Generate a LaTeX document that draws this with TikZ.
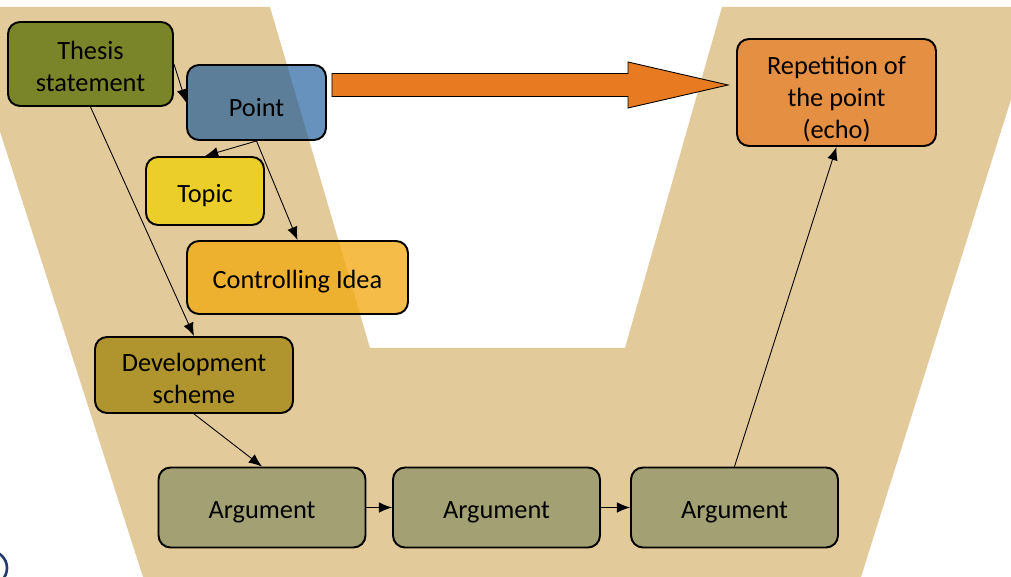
\documentclass[tikz,border=0pt]{standalone}
\usepackage{fontspec}
\setmainfont{Carlito}
\usetikzlibrary{arrows.meta,calc,positioning}
\definecolor{sandtan}{RGB}{227,202,154}
\definecolor{thesisolive}{RGB}{122,132,41}
\definecolor{pointblue}{RGB}{15,83,152}
\definecolor{topicyellow}{RGB}{235,206,42}
\definecolor{ideaorange}{RGB}{242,168,14}
\definecolor{schemegold}{RGB}{176,148,46}
\definecolor{argkhaki}{RGB}{163,160,116}
\definecolor{echoorange}{RGB}{229,143,66}
\definecolor{bigorange}{RGB}{232,122,34}
\definecolor{logoblue}{RGB}{31,58,107}
\newcommand{\toppad}[1]{\rule{0pt}{#1}}

\begin{document}
\begin{tikzpicture}[x=0.02cm, y=-0.02cm,
    box/.style={draw, rounded corners=0.24cm, line width=1.1pt, align=center,
        font=\fontsize{15}{18.2}\selectfont, inner sep=2pt,
        execute at begin node={\toppad{15.5pt}}},
    link/.style={-{Latex[length=7.5pt,width=6pt]}, line width=0.5pt}]
\useasboundingbox (0,0) rectangle (1011,577);
\clip (0,0) rectangle (1011,577);

% Background funnel
\fill[sandtan] (-40,7) -- (270,7) -- (370,348) -- (625,348) -- (722,7)
    -- (1040,7) -- (861,577) -- (143,577) -- cycle;
\draw[logoblue, line width=1.5pt] (-10,568) circle (17);

% Boxes
\node[box, fill=thesisolive, minimum width=3.3cm, minimum height=1.68cm] (thesis) at (90.5,64) {\toppad{13.6pt}Thesis\\statement};
\node[box, fill=pointblue, fill opacity=0.63, text opacity=1, minimum width=2.78cm, minimum height=1.5cm] (point) at (256.5,102.5) {Point};
\node[box, fill=topicyellow, minimum width=2.36cm, minimum height=1.36cm] (topic) at (205,191) {Topic};
\node[box, fill=ideaorange, fill opacity=0.76, text opacity=1, minimum width=4.42cm, minimum height=1.46cm] (idea) at (297.5,277.5) {Controlling Idea};
\node[box, fill=schemegold, minimum width=3.96cm, minimum height=1.52cm] (scheme) at (194,375) {\toppad{14.7pt}Development\\scheme};
\node[box, fill=echoorange, minimum width=3.98cm, minimum height=2.14cm] (echo) at (836.5,92.5) {\toppad{18pt}Repetition of\\the point\\(echo)};

\foreach \i/\x in {1/262, 2/496.5, 3/734.5} {
    \node[box, fill=argkhaki, minimum width=4.14cm, minimum height=1.6cm] (arg\i) at (\x,507.5) {Argument};
}

% Connectors
\draw[link] (thesis.east) -- (point.west);
\draw[link] (point.south) -- (topic.north);
\draw[link] (point.south) -- (idea.north);
\draw[link] (thesis.south) -- (scheme.north);
\draw[link] (scheme.south) -- (arg1.north);
\draw[link] (arg1.east) -- (arg2.west);
\draw[link] (arg2.east) -- (arg3.west);
\draw[link] (arg3.north) -- (echo.south);

% Big arrow from point to echo
\coordinate (tail) at ($(point.east)+(5,-17.5)$);
\coordinate (tip) at (728,85);
\draw[fill=bigorange, line width=0.5pt] ($(tail)+(0,-11.5)$) -- ($(tip)+(-100,-11.5)$)
    -- ($(tip)+(-100,-23)$) -- (tip) -- ($(tip)+(-100,23)$)
    -- ($(tip)+(-100,11.5)$) -- ($(tail)+(0,11.5)$) -- cycle;

\end{tikzpicture}
\end{document}
